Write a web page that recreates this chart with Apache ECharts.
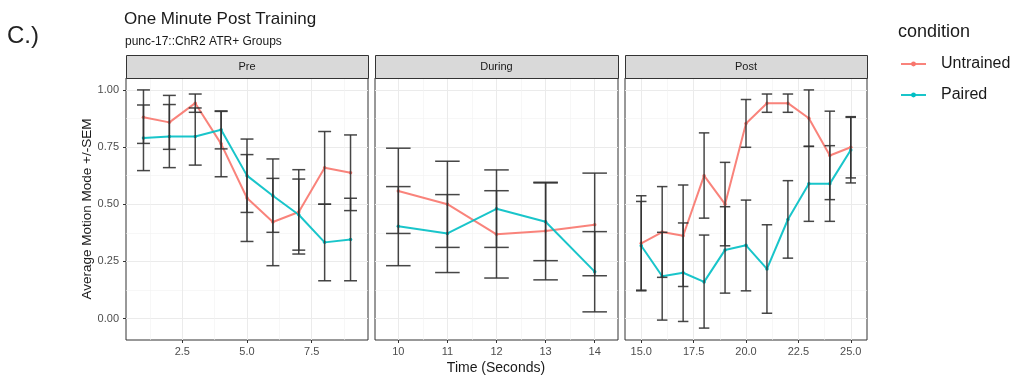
<!DOCTYPE html>
<html>
<head>
<meta charset="utf-8">
<script src="https://cdn.jsdelivr.net/npm/echarts@6/dist/echarts.min.js"></script>
<style>
  html, body { margin: 0; padding: 0; background: #fff; }
  #chart { width: 1016px; height: 377px; }
</style>
</head>
<body>
<div id="chart"></div>
<script>
const FONT = '"Liberation Sans", Arial, Helvetica, sans-serif';

// ---- data: time points (s) per phase ----
const preTime = [1, 2, 3, 4, 5, 6, 7, 8, 9];
const duringTime = [10, 11, 12, 13, 14];
const postTime = [15, 16, 17, 18, 19, 20, 21, 22, 23, 24, 25];

// Untrained: mean and lower / upper SEM bounds
const preUntrained   = [0.880, 0.858, 0.942, 0.764, 0.527, 0.422, 0.466, 0.659, 0.638];
const preUntrainedLo = [0.766, 0.740, 0.902, 0.620, 0.337, 0.231, 0.282, 0.500, 0.472];
const preUntrainedHi = [1.000, 0.976, 0.982, 0.908, 0.717, 0.613, 0.651, 0.818, 0.803];
// Paired
const prePaired   = [0.790, 0.796, 0.796, 0.826, 0.625, 0.537, 0.454, 0.333, 0.346];
const prePairedLo = [0.647, 0.660, 0.671, 0.742, 0.464, 0.377, 0.299, 0.165, 0.165];
const prePairedHi = [0.934, 0.936, 0.921, 0.906, 0.785, 0.698, 0.610, 0.500, 0.526];

const duringUntrained   = [0.558, 0.500, 0.368, 0.383, 0.410];
const duringUntrainedLo = [0.372, 0.311, 0.177, 0.169, 0.187];
const duringUntrainedHi = [0.745, 0.688, 0.559, 0.596, 0.636];
const duringPaired   = [0.404, 0.372, 0.480, 0.423, 0.205];
const duringPairedLo = [0.231, 0.201, 0.311, 0.253, 0.029];
const duringPairedHi = [0.577, 0.542, 0.650, 0.593, 0.380];

const postUntrained   = [0.329, 0.378, 0.362, 0.625, 0.500, 0.853, 0.942, 0.942, 0.876, 0.713, 0.749];
const postUntrainedLo = [0.121, 0.180, 0.140, 0.439, 0.318, 0.749, 0.902, 0.902, 0.753, 0.520, 0.615];
const postUntrainedHi = [0.537, 0.577, 0.584, 0.812, 0.683, 0.958, 0.982, 0.982, 1.000, 0.907, 0.883];
const postPaired   = [0.318, 0.185, 0.200, 0.160, 0.300, 0.320, 0.217, 0.433, 0.589, 0.590, 0.737];
const postPairedLo = [0.124, -0.007, -0.013, -0.042, 0.111, 0.121, 0.023, 0.264, 0.425, 0.425, 0.593];
const postPairedHi = [0.512, 0.377, 0.418, 0.365, 0.489, 0.518, 0.410, 0.603, 0.753, 0.756, 0.880];

// ---- tick breaks and labels ----
const yTicks = [0, 0.25, 0.5, 0.75, 1.0];
const yTickLabels = ['0.00', '0.25', '0.50', '0.75', '1.00'];
const yMinor = [0.125, 0.375, 0.625, 0.875];

const preTicks = [2.5, 5.0, 7.5];
const preTickLabels = ['2.5', '5.0', '7.5'];
const preMinor = [1.25, 3.75, 6.25, 8.75];
const duringTicks = [10, 11, 12, 13, 14];
const duringTickLabels = ['10', '11', '12', '13', '14'];
const duringMinor = [10.5, 11.5, 12.5, 13.5];
const postTicks = [15, 17.5, 20, 22.5, 25];
const postTickLabels = ['15.0', '17.5', '20.0', '22.5', '25.0'];
const postMinor = [16.25, 18.75, 21.25, 23.75];

const facetNames = ['Pre', 'During', 'Post'];
const groupNames = ['Untrained', 'Paired'];

// ---- layout ----
const COLORS = { Untrained: '#F8766D', Paired: '#00BFC4' };
const PLOT_TOP = 78, PLOT_H = 262, STRIP_TOP = 55;
const PANELS = [
  { left: 126, width: 242 },
  { left: 375, width: 243 },
  { left: 625, width: 242 }
];
const CAP = 0.25; // half width of error bar caps, in x units

const facets = [
  { time: preTime, ticks: preTicks, labels: preTickLabels, minor: preMinor,
    u: [preUntrained, preUntrainedLo, preUntrainedHi], p: [prePaired, prePairedLo, prePairedHi] },
  { time: duringTime, ticks: duringTicks, labels: duringTickLabels, minor: duringMinor,
    u: [duringUntrained, duringUntrainedLo, duringUntrainedHi], p: [duringPaired, duringPairedLo, duringPairedHi] },
  { time: postTime, ticks: postTicks, labels: postTickLabels, minor: postMinor,
    u: [postUntrained, postUntrainedLo, postUntrainedHi], p: [postPaired, postPairedLo, postPairedHi] }
];

// shared y range: data extent (incl. error bars) with 5% padding
const allLo = [].concat(...facets.map(f => f.u[1].concat(f.p[1])));
const allHi = [].concat(...facets.map(f => f.u[2].concat(f.p[2])));
const yLo = Math.min(...allLo), yHi = Math.max(...allHi);
const yPad = (yHi - yLo) * 0.05;
const Y_MIN = yLo - yPad, Y_MAX = yHi + yPad;

function xRange(time) {
  const lo = Math.min(...time) - CAP, hi = Math.max(...time) + CAP;
  const pad = (hi - lo) * 0.05;
  return [lo - pad, hi + pad];
}

function labelFor(ticks, labels) {
  return v => {
    const i = ticks.findIndex(t => Math.abs(t - v) < 1e-9);
    return i < 0 ? '' : labels[i];
  };
}

function errorBarItem(params, api) {
  const x = api.value(0), lo = api.value(1), hi = api.value(2);
  const top = api.coord([x, hi]), bot = api.coord([x, lo]);
  const l = api.coord([x - CAP, hi])[0], r = api.coord([x + CAP, hi])[0];
  const style = { stroke: '#333333', lineWidth: 1.5, opacity: 0.9 };
  return {
    type: 'group',
    children: [
      { type: 'line', shape: { x1: top[0], y1: top[1], x2: bot[0], y2: bot[1] }, style },
      { type: 'line', shape: { x1: l, y1: top[1], x2: r, y2: top[1] }, style },
      { type: 'line', shape: { x1: l, y1: bot[1], x2: r, y2: bot[1] }, style }
    ]
  };
}

const grid = [], xAxis = [], yAxis = [], series = [], graphic = [];
const gridLine = { color: '#ebebeb', width: 1 };
const minorLine = { color: '#f2f2f2', width: 0.6 };

facets.forEach((f, i) => {
  const P = PANELS[i];
  grid.push({ left: P.left, top: PLOT_TOP, width: P.width, height: PLOT_H,
    show: true, borderColor: '#333333', borderWidth: 1, backgroundColor: 'transparent',
    containLabel: false, outerBoundsMode: 'none' });
  const [xmin, xmax] = xRange(f.time);

  // major x
  xAxis.push({ type: 'value', gridIndex: i, min: xmin, max: xmax, position: 'bottom',
    axisLine: { show: false, onZero: false },
    axisTick: { show: true, length: 3, customValues: f.ticks, lineStyle: { color: '#333333' } },
    axisLabel: { show: true, customValues: f.ticks, formatter: labelFor(f.ticks, f.labels),
      color: '#4d4d4d', fontSize: 11, fontFamily: FONT, margin: 6 },
    splitLine: { show: true, lineStyle: gridLine } });
  // minor x
  xAxis.push({ type: 'value', gridIndex: i, min: xmin, max: xmax, position: 'top',
    axisLine: { show: false, onZero: false },
    axisTick: { show: false, customValues: f.minor },
    axisLabel: { show: false, customValues: f.minor },
    splitLine: { show: true, lineStyle: minorLine } });
  // major y
  yAxis.push({ type: 'value', gridIndex: i, min: Y_MIN, max: Y_MAX, position: 'left',
    axisLine: { show: false, onZero: false },
    axisTick: { show: i === 0, length: 3, customValues: yTicks, lineStyle: { color: '#333333' } },
    axisLabel: { show: i === 0, customValues: yTicks, formatter: labelFor(yTicks, yTickLabels),
      color: '#4d4d4d', fontSize: 11, fontFamily: FONT, margin: 7 },
    splitLine: { show: true, lineStyle: gridLine } });
  // minor y
  yAxis.push({ type: 'value', gridIndex: i, min: Y_MIN, max: Y_MAX, position: 'right',
    axisLine: { show: false, onZero: false },
    axisTick: { show: false, customValues: yMinor },
    axisLabel: { show: false, customValues: yMinor },
    splitLine: { show: true, lineStyle: minorLine } });

  [['Untrained', f.u], ['Paired', f.p]].forEach(([name, arr]) => {
    series.push({
      name, type: 'line', xAxisIndex: 2 * i, yAxisIndex: 2 * i,
      data: f.time.map((t, k) => [t, arr[0][k]]),
      symbol: 'circle', symbolSize: 3.5, showSymbol: true,
      lineStyle: { color: COLORS[name], width: 2, opacity: 0.9 },
      itemStyle: { color: COLORS[name] },
      z: 3
    });
  });
  [f.u, f.p].forEach(arr => {
    series.push({
      type: 'custom', xAxisIndex: 2 * i, yAxisIndex: 2 * i,
      data: f.time.map((t, k) => [t, arr[1][k], arr[2][k]]),
      encode: { x: 0, y: [1, 2] },
      renderItem: errorBarItem, silent: true, z: 4
    });
  });

  // facet strip
  graphic.push({ type: 'rect', left: P.left, top: STRIP_TOP, z: 10,
    shape: { x: 0, y: 0, width: P.width, height: PLOT_TOP - STRIP_TOP },
    style: { fill: '#d9d9d9', stroke: '#333333', lineWidth: 1 } });
  graphic.push({ type: 'text', x: P.left + P.width / 2, y: (STRIP_TOP + PLOT_TOP) / 2, z: 11,
    style: { text: facetNames[i], fill: '#1a1a1a', font: '11px ' + FONT,
      textAlign: 'center', textVerticalAlign: 'middle' } });
});

// titles, axis titles, legend title
graphic.push(
  { type: 'text', x: 7, y: 36, style: { text: 'C.)', fill: '#222', font: '24px ' + FONT,
    textAlign: 'left', textVerticalAlign: 'middle' } },
  { type: 'text', x: 124, y: 19, style: { text: 'One Minute Post Training', fill: '#1a1a1a',
    font: '17px ' + FONT, textAlign: 'left', textVerticalAlign: 'middle' } },
  { type: 'text', x: 125, y: 42, style: { text: 'punc-17::ChR2 ATR+ Groups', fill: '#1a1a1a',
    font: '12px ' + FONT, textAlign: 'left', textVerticalAlign: 'middle' } },
  { type: 'text', x: 496, y: 368, style: { text: 'Time (Seconds)', fill: '#1a1a1a',
    font: '14px ' + FONT, textAlign: 'center', textVerticalAlign: 'middle' } },
  { type: 'text', x: 87, y: PLOT_TOP + PLOT_H / 2, rotation: Math.PI / 2,
    style: { text: 'Average Motion Mode +/-SEM', fill: '#1a1a1a', font: '13.5px ' + FONT,
      textAlign: 'center', textVerticalAlign: 'middle' } },
  { type: 'text', x: 898, y: 32, style: { text: 'condition', fill: '#1a1a1a',
    font: '18px ' + FONT, textAlign: 'left', textVerticalAlign: 'middle' } }
);

const chart = echarts.init(document.getElementById('chart'), null, { renderer: 'canvas' });
chart.setOption({
  animation: false,
  backgroundColor: '#ffffff',
  grid, xAxis, yAxis, series, graphic,
  legend: {
    data: groupNames, orient: 'vertical', left: 900, top: 56, padding: 0,
    itemWidth: 25, itemHeight: 6, itemGap: 15,
    textStyle: { fontSize: 16, lineHeight: 16, fontFamily: FONT, color: '#1a1a1a', padding: [0, 0, 0, 10] },
    selectedMode: false
  }
});
</script>
</body>
</html>
